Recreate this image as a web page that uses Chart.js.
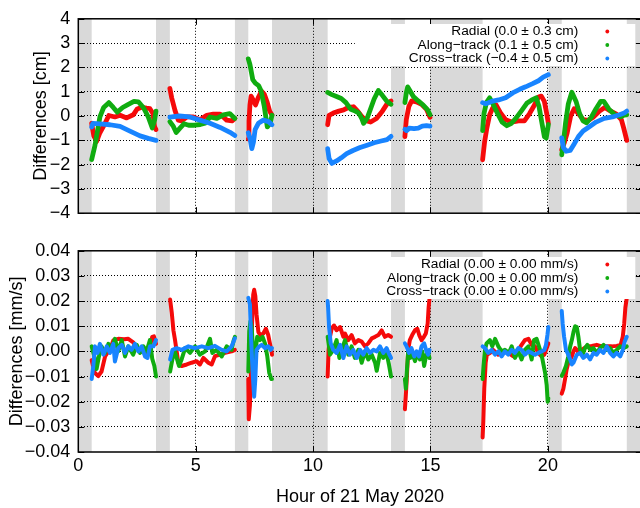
<!DOCTYPE html>
<html>
<head>
<meta charset="utf-8">
<script src="https://cdn.jsdelivr.net/npm/chart.js@4.4.1/dist/chart.umd.min.js"></script>
<style>
  body { margin: 0; width: 640px; height: 508px; overflow: hidden; background: #fff; }
  #wrap { position: relative; width: 644px; height: 508px; }
  canvas { position: absolute; left: 0; }
</style>
</head>
<body>
<div id="wrap">
  <canvas id="posChart" width="644" height="232" style="top:0"></canvas>
  <canvas id="velChart" width="644" height="276" style="top:232px"></canvas>
</div>
<script>
// eclipse / no-data intervals, hours
const shadowStart = [0, 3.31, 6.67, 8.25, 13.32, 14.98, 20.02, 23.36];
const shadowEnd = [0.57, 3.9, 7.24, 10.62, 13.91, 17.22, 20.59, 24];

const seriesColors = ['rgb(245,10,10)', 'rgb(16,172,16)', 'rgb(24,132,255)'];
const posLabels = ['Radial (0.0 ± 0.3 cm)', 'Along−track (0.1 ± 0.5 cm)', 'Cross−track (−0.4 ± 0.5 cm)'];
const velLabels = ['Radial (0.00 ± 0.00 mm/s)', 'Along−track (0.00 ± 0.00 mm/s)', 'Cross−track (0.00 ± 0.00 mm/s)'];

// position differences [cm], one sub-array per pass: [hour, value]
const posRadial = [
  [[0.57,-0.3],[0.66,-0.82],[0.78,-1.05],[0.92,-0.69],[1.14,-0.3],[1.3,0.02],[1.56,-0.04],[1.78,0.03],[2.06,-0.08],[2.34,0.05],[2.51,0.29],[2.7,0.36],[2.91,0.32],[3.05,0.3],[3.18,0.1],[3.25,-0.45],[3.31,-0.56]],
  [[3.9,1.13],[3.98,0.74],[4.12,0.22],[4.26,-0.17],[4.4,-0.2],[4.62,-0.04],[4.9,-0.04],[5.18,-0.15],[5.47,0.03],[5.75,0.08],[6.04,0.08],[6.32,-0.17],[6.55,-0.2],[6.67,-0.1]],
  [[7.24,-0.95],[7.27,-0.2],[7.31,0.45],[7.36,0.82],[7.45,0.65],[7.55,0.45],[7.66,0.75],[7.8,1.02],[7.92,0.9],[8.05,0.55],[8.15,0.2],[8.25,0.04]],
  [[10.62,-0.36],[10.68,0.03],[10.86,0.12],[11.1,0.2],[11.3,0.25],[11.5,0.35],[11.72,0.38],[11.9,0.2],[12.1,-0.05],[12.3,-0.2],[12.45,-0.25],[12.7,-0.1],[12.95,0.2],[13.15,0.5],[13.32,0.62]],
  [[13.91,-0.85],[13.97,-0.15],[14.08,0.4],[14.2,0.62],[14.4,0.58],[14.62,0.48],[14.83,0.28],[14.98,-0.05]],
  [[17.22,-1.8],[17.3,-1.1],[17.4,-0.5],[17.52,0.05],[17.65,0.33],[17.8,0.45],[18.0,0.1],[18.2,-0.15],[18.45,-0.25],[18.75,-0.2],[19.0,-0.2],[19.22,0.1],[19.43,0.45],[19.6,0.78],[19.72,0.82],[19.85,0.6],[19.95,0.1],[20.02,-0.3]],
  [[20.59,-1.38],[20.7,-1.1],[20.82,-0.7],[20.97,0.0],[21.12,0.3],[21.3,0.1],[21.5,-0.15],[21.72,-0.18],[21.93,-0.05],[22.2,0.2],[22.42,0.35],[22.64,0.22],[22.92,0.08],[23.13,-0.15],[23.23,-0.5],[23.36,-1.0]]
];
const posAlong = [
  [[0.57,-1.79],[0.71,-1.21],[0.92,-0.04],[1.08,0.35],[1.3,0.55],[1.49,0.35],[1.66,0.16],[1.89,0.35],[2.13,0.48],[2.37,0.6],[2.56,0.58],[2.77,0.35],[2.98,-0.04],[3.15,-0.49],[3.25,-0.17],[3.31,0.2]],
  [[3.9,-0.23],[4.05,-0.43],[4.17,-0.68],[4.33,-0.5],[4.5,-0.32],[4.7,-0.38],[4.95,-0.38],[5.2,-0.35],[5.4,-0.3],[5.61,-0.04],[5.9,-0.1],[6.18,0.05],[6.45,0.1],[6.67,-0.1]],
  [[7.24,2.35],[7.31,2.12],[7.43,1.5],[7.54,1.35],[7.68,1.25],[7.78,1.05],[7.92,0.4],[8.05,-0.45],[8.17,-0.3],[8.25,0.03]],
  [[10.62,0.97],[10.8,0.88],[11.0,0.8],[11.2,0.72],[11.4,0.55],[11.6,0.28],[11.8,0.2],[11.95,0.12],[12.08,-0.12],[12.15,-0.3],[12.3,-0.1],[12.45,0.3],[12.6,0.7],[12.78,1.05],[12.95,0.85],[13.15,0.6],[13.32,0.48]],
  [[13.91,0.55],[13.97,0.95],[14.03,1.2],[14.12,1.05],[14.27,0.8],[14.48,0.62],[14.69,0.45],[14.88,0.25],[14.98,0.05]],
  [[17.22,-0.6],[17.28,0.1],[17.38,0.55],[17.52,0.75],[17.66,0.5],[17.85,0.12],[18.05,-0.25],[18.25,-0.4],[18.45,-0.3],[18.65,-0.08],[18.88,0.22],[19.1,0.52],[19.3,0.65],[19.5,0.75],[19.62,0.4],[19.73,-0.2],[19.85,-0.85],[19.93,-0.9],[20.02,-0.35]],
  [[20.59,-1.6],[20.66,-1.1],[20.75,-0.3],[20.87,0.5],[21.02,0.98],[21.2,0.6],[21.35,0.1],[21.5,-0.2],[21.65,-0.28],[21.85,-0.05],[22.05,0.3],[22.25,0.6],[22.38,0.6],[22.6,0.28],[22.85,0.05],[23.1,-0.03],[23.25,0.04],[23.36,0.05]]
];
const posCross = [
  [[0.57,-0.45],[0.62,-0.3],[0.92,-0.32],[1.35,-0.36],[1.78,-0.43],[2.2,-0.62],[2.63,-0.82],[2.98,-0.92],[3.31,-1.0]],
  [[3.9,-0.05],[4.3,0.0],[4.75,-0.04],[5.18,-0.17],[5.61,-0.3],[6.04,-0.47],[6.46,-0.67],[6.67,-0.8]],
  [[7.24,-0.69],[7.32,-0.95],[7.39,-1.34],[7.46,-1.08],[7.53,-0.56],[7.67,-0.3],[7.88,-0.17],[8.1,-0.23],[8.25,-0.36]],
  [[10.62,-1.34],[10.68,-1.75],[10.8,-1.95],[11.0,-1.85],[11.2,-1.72],[11.43,-1.55],[11.7,-1.42],[12.0,-1.3],[12.3,-1.2],[12.6,-1.1],[12.9,-1.03],[13.15,-0.97],[13.32,-0.84]],
  [[13.91,-0.55],[13.98,-0.6],[14.1,-0.5],[14.3,-0.52],[14.48,-0.5],[14.65,-0.42],[14.83,-0.4],[14.98,-0.42]],
  [[17.22,0.55],[17.35,0.5],[17.6,0.6],[17.9,0.66],[18.2,0.75],[18.5,0.95],[18.8,1.1],[19.05,1.2],[19.35,1.33],[19.6,1.45],[19.8,1.6],[20.02,1.7]],
  [[20.59,-0.9],[20.66,-1.3],[20.78,-1.45],[20.95,-1.42],[21.12,-1.15],[21.3,-0.85],[21.5,-0.62],[21.75,-0.45],[22.05,-0.25],[22.4,-0.1],[22.75,-0.04],[23.05,0.05],[23.25,0.12],[23.36,0.2]]
];

// velocity differences [mm/s]
const velRadial = [
  [[0.57,-0.0035],[0.7,-0.0085],[0.85,-0.0098],[0.99,-0.008],[1.14,-0.002],[1.35,0.001],[1.5,0.0045],[1.7,0.005],[1.95,0.0048],[2.13,0.005],[2.34,0.0036],[2.5,0.001],[2.63,0.0004],[2.91,-0.001],[3.05,0.002],[3.15,0.0058],[3.22,0.006],[3.31,0.003]],
  [[3.91,0.0206],[3.98,0.0155],[4.05,0.0084],[4.12,0.0045],[4.26,-0.0045],[4.4,-0.0058],[4.62,-0.0052],[4.83,-0.0045],[5.04,-0.0039],[5.18,-0.0052],[5.33,-0.0026],[5.54,-0.0045],[5.68,-0.0052],[5.82,-0.0019],[6.04,-0.0013],[6.25,-0.0006],[6.53,0.0],[6.67,0.0006]],
  [[7.24,-0.011],[7.26,-0.027],[7.31,-0.0213],[7.35,-0.0084],[7.4,0.011],[7.45,0.0226],[7.49,0.0245],[7.54,0.022],[7.59,0.0148],[7.67,0.0077],[7.76,0.0065],[7.88,0.0071],[7.99,0.009],[8.09,0.0065],[8.16,0.0032],[8.23,0.0],[8.25,-0.0013]],
  [[10.62,-0.01],[10.66,0.0006],[10.72,0.0058],[10.79,0.009],[10.89,0.0103],[11.0,0.0084],[11.15,0.0097],[11.29,0.0058],[11.36,0.0071],[11.5,0.0045],[11.64,0.0065],[11.78,0.0032],[11.93,0.0045],[12.07,0.0039],[12.21,0.002],[12.35,0.0032],[12.5,0.0052],[12.64,0.0058],[12.78,0.0065],[12.92,0.0084],[13.06,0.0058],[13.2,0.0065],[13.32,0.0058]],
  [[13.91,-0.023],[13.95,-0.0174],[13.99,-0.011],[14.05,0.0006],[14.12,0.0045],[14.22,0.0065],[14.34,0.0084],[14.44,0.009],[14.52,0.0065],[14.62,0.0045],[14.72,0.0058],[14.8,0.0071],[14.88,0.011],[14.92,0.0174],[14.96,0.0213]],
  [[17.22,-0.0342],[17.25,-0.0277],[17.29,-0.0148],[17.35,-0.0045],[17.4,-0.0013],[17.53,-0.0006],[17.67,0.0006],[17.89,-0.0013],[18.1,0.0],[18.31,-0.0006],[18.53,-0.002],[18.74,0.0006],[18.88,0.0026],[19.02,0.0045],[19.17,0.005],[19.31,0.0026],[19.45,0.002],[19.59,-0.0006],[19.73,-0.002],[19.85,-0.0013],[19.95,0.0013],[20.02,0.0032]],
  [[20.59,-0.0168],[20.66,-0.0148],[20.73,-0.011],[20.8,-0.0071],[20.87,-0.0045],[20.95,-0.0032],[21.02,-0.002],[21.09,0.0],[21.16,0.0013],[21.23,0.0006],[21.3,-0.0006],[21.44,0.0006],[21.66,0.002],[21.87,0.0022],[22.08,0.0026],[22.29,0.002],[22.51,0.002],[22.72,0.002],[22.93,0.0022],[23.1,0.0026],[23.19,0.0058],[23.25,0.011],[23.3,0.0174],[23.36,0.0213]]
];
const velAlong = [
  [[0.57,0.002],[0.71,-0.003],[0.78,-0.007],[0.88,-0.002],[0.99,0.002],[1.14,-0.0006],[1.28,0.003],[1.42,0.0006],[1.56,0.005],[1.7,0.0],[1.85,0.0045],[1.99,-0.002],[2.13,0.002],[2.34,-0.0013],[2.49,0.0026],[2.63,-0.0006],[2.77,0.002],[2.91,0.0],[3.05,0.0045],[3.15,-0.003],[3.24,-0.0058],[3.31,-0.01]],
  [[3.91,-0.008],[3.98,-0.0045],[4.09,0.0006],[4.19,-0.0026],[4.29,-0.0058],[4.4,-0.0032],[4.55,0.0013],[4.76,-0.0006],[4.97,0.002],[5.18,-0.0013],[5.4,0.0],[5.61,0.005],[5.71,-0.0006],[5.89,0.0006],[6.11,-0.002],[6.32,0.002],[6.53,0.0006],[6.62,0.0045],[6.67,0.0058]],
  [[7.24,-0.008],[7.28,0.008],[7.33,0.012],[7.38,0.01],[7.42,0.0045],[7.48,-0.0058],[7.54,-0.0006],[7.62,0.0058],[7.74,0.0045],[7.85,0.0058],[7.95,0.0032],[8.05,-0.002],[8.13,-0.0084],[8.22,-0.011],[8.25,-0.011]],
  [[10.62,0.0058],[10.66,0.0032],[10.72,-0.0013],[10.86,0.0006],[11.0,0.0045],[11.12,-0.0026],[11.22,0.0006],[11.36,0.0045],[11.5,-0.0013],[11.64,0.002],[11.78,-0.0026],[11.93,0.0006],[12.07,-0.0045],[12.21,0.0],[12.35,-0.0032],[12.5,-0.0013],[12.64,-0.0045],[12.71,-0.0077],[12.85,-0.0006],[12.99,-0.0026],[13.13,-0.0006],[13.23,-0.0052],[13.32,-0.01]],
  [[13.91,-0.011],[13.95,-0.0148],[13.99,-0.0084],[14.05,0.0006],[14.14,-0.0026],[14.22,-0.0006],[14.34,-0.0039],[14.44,-0.0006],[14.55,-0.0032],[14.65,0.0],[14.73,-0.0058],[14.82,-0.0013],[14.9,-0.0006],[14.96,-0.0026]],
  [[17.22,-0.011],[17.26,-0.0058],[17.32,0.0006],[17.39,0.0032],[17.53,0.0045],[17.63,0.002],[17.75,0.005],[17.89,0.002],[18.03,0.0],[18.17,0.0006],[18.34,-0.0006],[18.46,0.002],[18.6,-0.0026],[18.74,0.0],[18.88,-0.0032],[19.02,0.0006],[19.17,0.002],[19.31,-0.0032],[19.41,0.0045],[19.52,0.005],[19.62,0.002],[19.73,-0.0013],[19.81,-0.0052],[19.88,-0.0084],[19.95,-0.0135],[19.99,-0.02],[20.02,-0.0187]],
  [[20.59,-0.0097],[20.66,-0.0084],[20.77,-0.0058],[20.87,-0.002],[20.95,0.002],[21.02,0.0045],[21.09,0.0077],[21.16,0.01],[21.23,0.0097],[21.3,0.0058],[21.37,0.0006],[21.48,-0.0013],[21.58,0.0013],[21.68,0.0026],[21.8,0.0006],[21.94,0.0013],[22.08,-0.0006],[22.22,0.0013],[22.37,0.0026],[22.51,0.0006],[22.65,0.0013],[22.79,-0.0006],[22.93,0.0006],[23.08,0.002],[23.22,0.0013],[23.36,0.002]]
];
const velCross = [
  [[0.57,-0.011],[0.64,-0.0058],[0.71,0.002],[0.82,-0.0006],[0.92,0.003],[1.07,-0.0013],[1.21,0.002],[1.35,-0.0006],[1.49,0.003],[1.56,-0.004],[1.7,0.0013],[1.85,0.0026],[1.99,-0.0006],[2.13,0.002],[2.27,0.0006],[2.41,0.003],[2.56,0.0],[2.7,0.002],[2.84,-0.002],[2.95,-0.0026],[3.05,0.002],[3.2,0.002],[3.31,0.0045]],
  [[3.91,-0.0032],[4.01,0.0006],[4.19,0.0013],[4.4,0.0006],[4.69,0.002],[4.97,0.0013],[5.26,0.002],[5.54,0.0013],[5.82,0.0022],[6.11,0.0006],[6.32,0.0],[6.53,0.002],[6.67,0.0052]],
  [[7.24,0.0213],[7.31,0.0187],[7.35,0.0071],[7.4,-0.0032],[7.45,-0.0123],[7.49,-0.018],[7.54,-0.011],[7.59,0.0006],[7.71,0.002],[7.81,0.0026],[7.95,0.0013],[8.09,0.002],[8.19,0.0006],[8.25,0.0013]],
  [[10.62,0.02],[10.64,0.0174],[10.68,0.0097],[10.75,0.0032],[10.86,0.0006],[11.0,-0.0006],[11.15,0.0026],[11.29,-0.0026],[11.43,0.002],[11.57,-0.0013],[11.71,0.0006],[11.86,-0.0026],[12.0,0.0006],[12.14,-0.0013],[12.28,0.0013],[12.42,-0.0006],[12.57,0.0006],[12.71,0.0],[12.85,0.002],[12.99,-0.0006],[13.13,0.0013],[13.25,-0.0013],[13.32,-0.0026]],
  [[13.91,0.0032],[13.98,0.002],[14.08,-0.0006],[14.19,0.0013],[14.31,-0.002],[14.41,0.0],[14.51,-0.002],[14.62,0.002],[14.73,0.0032],[14.83,0.0],[14.9,-0.0013],[14.96,0.0006]],
  [[17.22,0.002],[17.32,0.0013],[17.46,-0.0006],[17.6,0.0006],[17.75,-0.0013],[17.89,0.0],[18.03,-0.002],[18.17,0.0],[18.31,-0.0013],[18.46,0.0006],[18.6,-0.0006],[18.74,0.0013],[18.88,0.0006],[19.02,-0.0013],[19.17,0.0],[19.31,-0.0006],[19.45,-0.0013],[19.59,-0.0006],[19.73,0.0],[19.85,0.0006],[19.92,0.0026],[19.98,0.0065],[20.02,0.0097]],
  [[20.59,0.0161],[20.63,0.011],[20.69,0.0058],[20.77,0.0006],[20.87,-0.0013],[20.95,-0.0032],[21.02,-0.0052],[21.09,-0.0045],[21.23,-0.0013],[21.37,-0.0006],[21.51,-0.0026],[21.66,-0.0013],[21.8,-0.0032],[21.94,-0.0006],[22.08,-0.0013],[22.22,0.0006],[22.37,-0.0006],[22.51,0.002],[22.65,-0.0006],[22.79,-0.002],[22.93,-0.0006],[23.08,-0.002],[23.19,0.0006],[23.27,0.0039],[23.36,0.0058]]
];

Chart.defaults.font.family = '"Liberation Sans", Arial, Helvetica, sans-serif';
Chart.defaults.font.size = 18;
Chart.defaults.color = '#000';

// flatten passes into one point list, with a null point between passes so the line breaks
function toPoints(passes) {
  const pts = [];
  passes.forEach(pass => {
    pass.forEach(p => pts.push({x: p[0], y: p[1]}));
    pts.push({x: pass[pass.length - 1][0], y: null});
  });
  return pts;
}

function makeDatasets(series, labels, width) {
  return series.map((s, i) => ({
    label: labels[i],
    data: toPoints(s),
    borderColor: seriesColors[i],
    backgroundColor: seriesColors[i],
    borderWidth: width,
    pointRadius: 0,
    tension: 0,
    borderJoinStyle: 'round',
    borderCapStyle: 'round',
    order: 3 - i
  }));
}

// grey bands behind the grid
const shadowPlugin = {
  id: 'shadow',
  beforeDraw(chart) {
    const {ctx, chartArea: a, scales: {x}} = chart;
    ctx.save();
    ctx.fillStyle = '#d9d9d9';
    shadowStart.forEach((s, i) => {
      const x0 = x.getPixelForValue(s);
      const x1 = x.getPixelForValue(shadowEnd[i]);
      ctx.fillRect(x0, a.top, x1 - x0, a.bottom - a.top);
    });
    ctx.restore();
  }
};

// plot frame with inward tick marks on all four sides
const framePlugin = {
  id: 'frame',
  afterDatasetsDraw(chart) {
    const {ctx, chartArea: a, scales: {x, y}} = chart;
    ctx.save();
    ctx.strokeStyle = '#000';
    ctx.lineWidth = 1;
    ctx.beginPath();
    y.ticks.forEach(t => {
      const py = Math.round(y.getPixelForValue(t.value)) + 0.5;
      ctx.moveTo(a.left, py); ctx.lineTo(a.left + 6, py);
      ctx.moveTo(a.right, py); ctx.lineTo(a.right - 6, py);
    });
    x.ticks.forEach(t => {
      const px = Math.round(x.getPixelForValue(t.value)) + 0.5;
      ctx.moveTo(px, a.bottom); ctx.lineTo(px, a.bottom - 6);
      ctx.moveTo(px, a.top); ctx.lineTo(px, a.top + 6);
    });
    ctx.stroke();
    ctx.lineWidth = 1.5;
    ctx.strokeRect(a.left, a.top, a.right - a.left, a.bottom - a.top);
    ctx.restore();
  }
};

// key in the upper right: right-aligned text, coloured dot after it
const keyPlugin = {
  id: 'keyBox',
  afterDatasetsDraw(chart, args, opts) {
    const {ctx, chartArea: a} = chart;
    const sets = chart.data.datasets;
    const textRight = a.left + 500;
    const firstY = a.top + opts.firstY;
    const gap = 13.5;
    ctx.save();
    ctx.font = '13.7px "Liberation Sans", Arial, sans-serif';
    const maxW = Math.max(...sets.map(d => ctx.measureText(d.label).width));
    const left = textRight - maxW - 54;
    const top = firstY - 7.5;
    const bottom = firstY + gap * (sets.length - 1) + 7.5;
    ctx.fillStyle = '#fff';
    ctx.fillRect(left, top, a.left + 557 - left, bottom - top);
    ctx.textAlign = 'right';
    ctx.textBaseline = 'middle';
    sets.forEach((d, i) => {
      const ly = firstY + i * gap;
      ctx.fillStyle = '#000';
      ctx.fillText(d.label, textRight, ly);
      ctx.fillStyle = d.borderColor;
      ctx.beginPath();
      ctx.arc(a.left + 529, ly, 1.9, 0, Math.PI * 2);
      ctx.fill();
    });
    ctx.restore();
  }
};

function edgeColor(min, max) {
  return c => (Math.abs(c.tick.value - min) < 1e-9 || Math.abs(c.tick.value - max) < 1e-9)
    ? 'rgba(0,0,0,0)' : '#000';
}

function makeOptions(cfg) {
  return {
    responsive: false,
    animation: false,
    events: [],
    layout: {padding: {left: 0, right: 2.2, top: cfg.top, bottom: 0}},
    plugins: {
      legend: {display: false},
      tooltip: {enabled: false},
      keyBox: {firstY: cfg.keyY}
    },
    scales: {
      x: {
        type: 'linear',
        min: 0,
        max: 24,
        afterFit: s => { s.height = cfg.xHeight; },
        ticks: {display: cfg.showX, stepSize: 5, includeBounds: false, maxRotation: 0, autoSkip: false, padding: 3.2},
        grid: {color: edgeColor(0, 24), lineWidth: 1, drawTicks: false},
        border: {display: false, dash: [1, 2]},
        title: {display: cfg.showX, text: 'Hour of 21 May 2020', padding: {top: 0, bottom: 0.2}}
      },
      y: {
        min: cfg.yMin,
        max: cfg.yMax,
        afterFit: s => { s.width = 78.3; },
        ticks: {stepSize: cfg.yStep, padding: 8, callback: cfg.fmt},
        grid: {color: edgeColor(cfg.yMin, cfg.yMax), lineWidth: 1, drawTicks: false},
        border: {display: false, dash: [1, 2]},
        title: {display: true, text: cfg.yTitle, padding: {top: cfg.titlePad, bottom: 0}}
      }
    }
  };
}

const minus = s => s.replace('-', '\u2212');

new Chart(document.getElementById('posChart'), {
  type: 'line',
  data: {datasets: makeDatasets([posRadial, posAlong, posCross], posLabels, 4.8)},
  options: makeOptions({
    top: 12.3, xHeight: 13.7, showX: false, keyY: 12.7,
    yMin: -4, yMax: 4, yStep: 1, yTitle: 'Differences [cm]', titlePad: 30.2,
    fmt: v => minus(String(v))
  }),
  plugins: [shadowPlugin, framePlugin, keyPlugin]
});

new Chart(document.getElementById('velChart'), {
  type: 'line',
  data: {datasets: makeDatasets([velRadial, velAlong, velCross], velLabels, 4)},
  options: makeOptions({
    top: 14, xHeight: 56, showX: true, keyY: 13.7,
    yMin: -0.04, yMax: 0.04, yStep: 0.01, yTitle: 'Differences [mm/s]', titlePad: 6.7,
    fmt: v => Math.abs(v) < 1e-9 ? '0.00' : minus(v.toFixed(2))
  }),
  plugins: [shadowPlugin, framePlugin, keyPlugin]
});
</script>
</body>
</html>
